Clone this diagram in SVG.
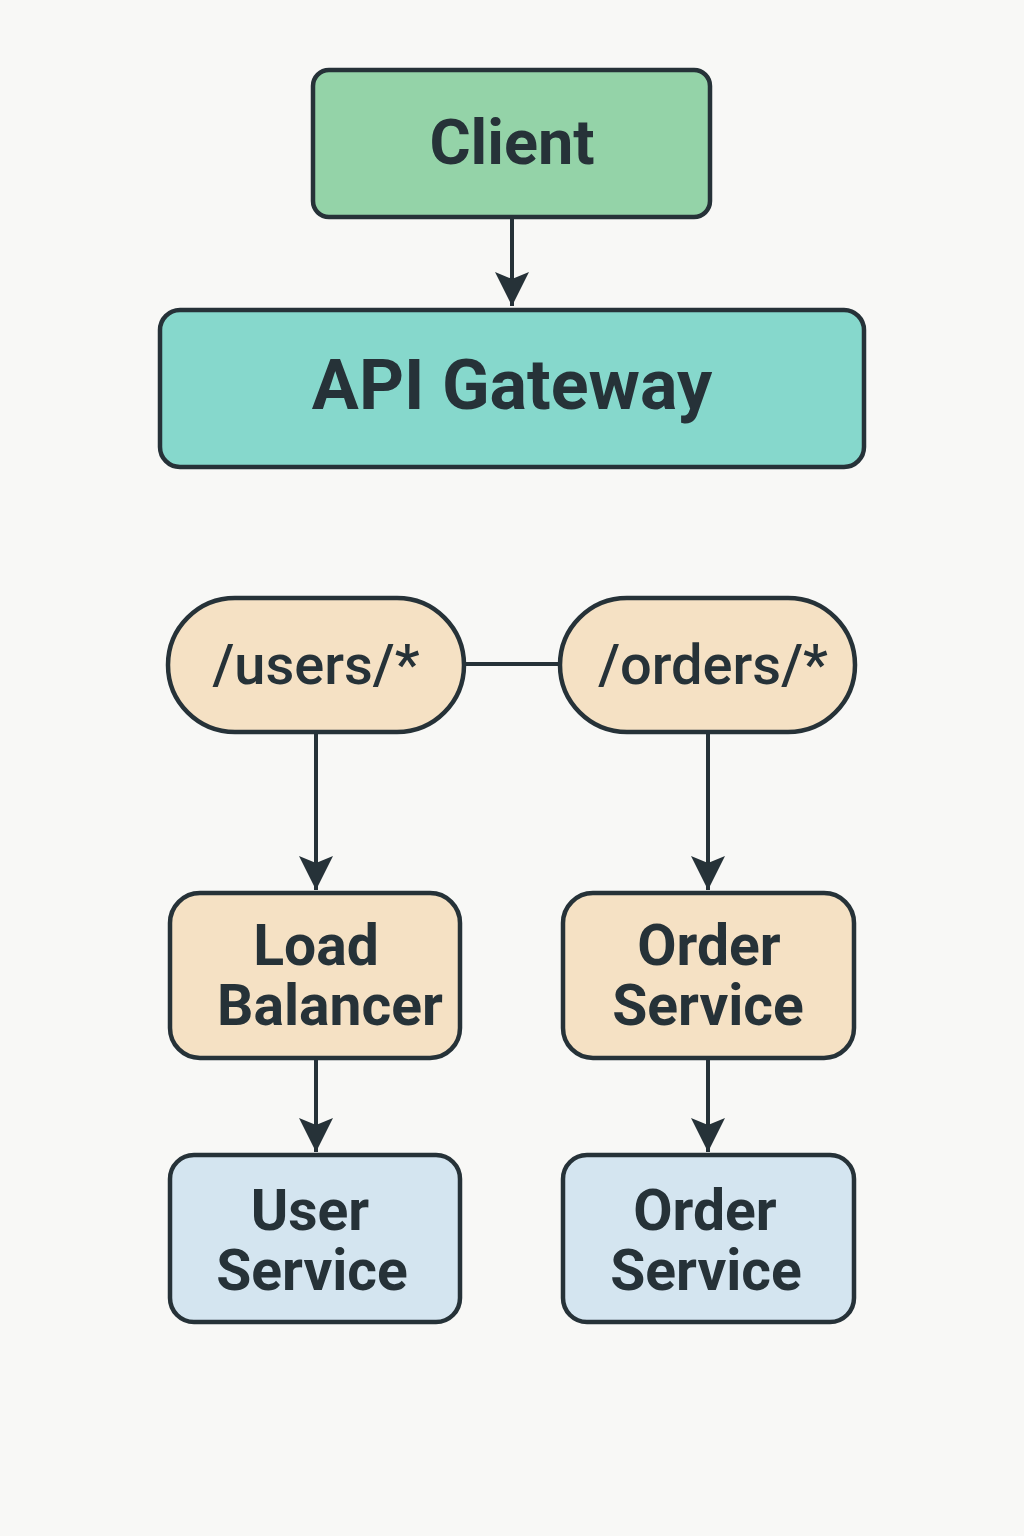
<svg xmlns="http://www.w3.org/2000/svg" width="1024" height="1536" viewBox="0 0 1024 1536">
<defs>
<marker id="arrow" viewBox="0 0 34 34" refX="34" refY="17" markerWidth="34" markerHeight="34" markerUnits="userSpaceOnUse" orient="auto"><path d="M0,0 L34,17 L0,34 L7,17 z" fill="#263238"/></marker>
<style>
.box{stroke:#263238;stroke-width:4.5}
.t{font-family:Roboto,"Liberation Sans",sans-serif;font-weight:700;fill:#263238;text-anchor:middle}
.p{font-family:Roboto,"Liberation Sans",sans-serif;font-weight:500;fill:#263238;text-anchor:middle}
.c{stroke:#263238;stroke-width:4;fill:none}
</style>
</defs>
<rect width="1024" height="1536" fill="#f8f8f6"/>
<g id="connectors">
<path class="c" d="M512,219 V306" marker-end="url(#arrow)"/>
<path class="c" d="M464,664 H560"/>
<path class="c" d="M316,734 V890" marker-end="url(#arrow)"/>
<path class="c" d="M708,734 V890" marker-end="url(#arrow)"/>
<path class="c" d="M316,1060 V1152" marker-end="url(#arrow)"/>
<path class="c" d="M708,1060 V1152" marker-end="url(#arrow)"/>
</g>
<g id="client">
<rect class="box" x="313" y="70" width="397" height="147" rx="16" fill="#94d3a8"/>
<text class="t" x="512" y="164" font-size="63">Client</text>
</g>
<g id="api-gateway">
<rect class="box" x="160" y="310" width="704" height="157" rx="20" fill="#86d8cc"/>
<text class="t" x="512" y="409" font-size="70">API Gateway</text>
</g>
<g id="users-route">
<rect class="box" x="168" y="598" width="296" height="134" rx="67" fill="#f5e1c4"/>
<text class="p" x="316" y="684" font-size="56">/users/*</text>
</g>
<g id="orders-route">
<rect class="box" x="560" y="598" width="295" height="134" rx="67" fill="#f5e1c4"/>
<text class="p" x="713" y="684" font-size="56">/orders/*</text>
</g>
<g id="load-balancer">
<rect class="box" x="170" y="893" width="290" height="165" rx="30" fill="#f5e1c4"/>
<text class="t" x="316" y="965" font-size="57">Load</text>
<text class="t" x="330" y="1025" font-size="57">Balancer</text>
</g>
<g id="order-service-lb">
<rect class="box" x="563" y="893" width="291" height="165" rx="30" fill="#f5e1c4"/>
<text class="t" x="709" y="965" font-size="57">Order</text>
<text class="t" x="708" y="1025" font-size="57">Service</text>
</g>
<g id="user-service">
<rect class="box" x="170" y="1155" width="290" height="167" rx="24" fill="#d4e5f0"/>
<text class="t" x="310" y="1230" font-size="57">User</text>
<text class="t" x="312" y="1290" font-size="57">Service</text>
</g>
<g id="order-service">
<rect class="box" x="563" y="1155" width="291" height="167" rx="24" fill="#d4e5f0"/>
<text class="t" x="705" y="1230" font-size="57">Order</text>
<text class="t" x="706" y="1290" font-size="57">Service</text>
</g>
</svg>
